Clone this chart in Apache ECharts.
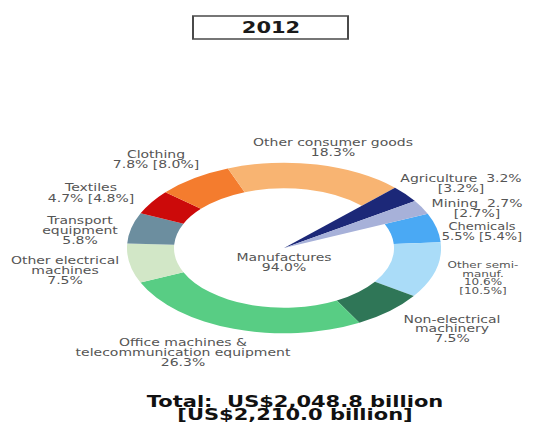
<!DOCTYPE html>
<html>
<head>
<meta charset="utf-8">
<script src="https://cdn.jsdelivr.net/npm/echarts@6/dist/echarts.min.js"></script>
<style>
  html, body { margin: 0; padding: 0; background: #fff; overflow: hidden; }
  #stage { position: relative; width: 538px; height: 422px; }
  /* the ring is drawn as a circle and flattened into an ellipse */
  #ring { position: absolute; left: 0; top: 0; width: 538px; height: 422px;
          transform: scaleY(0.543); transform-origin: 284px 248px; }
  /* text layer, slightly flattened for the wide lettering */
  #text { position: absolute; left: 0; top: 0; width: 538px; height: 563px;
          transform: scaleY(0.75); transform-origin: 0 0; }
</style>
</head>
<body>
<div id="stage">
  <div id="ring"></div>
  <div id="text"></div>
</div>
<script>
// ---- data: share of exports by product, 2012 [previous year in brackets] ----
const yearLabel = '2012';

const primaryNames  = ['Agriculture', 'Mining'];
const primaryShares = [3.2, 2.7];
const primaryPrev   = [3.2, 2.7];

const manufNames  = ['Chemicals', 'Other semi-\nmanuf.', 'Non-electrical\nmachinery',
                     'Office machines &\ntelecommunication equipment', 'Other electrical\nmachines',
                     'Transport\nequipment', 'Textiles', 'Clothing', 'Other consumer goods'];
const manufShares = [5.5, 10.6, 7.5, 26.3, 7.5, 5.8, 4.7, 7.8, 18.3];
const manufPrev   = [5.4, 10.5, null, null, null, null, 4.8, 8.0, null];

const manufLabel = 'Manufactures';
const manufTotal = 94.0;

const totalValue = '2,048.8';
const totalPrev  = '2,210.0';

// ---- colours ----
const primaryColors = ['#1c2878', '#a7b1d9'];
const manufColors   = ['#4aa9f4', '#aadcf8', '#2f7657', '#58cd84', '#d2e7c7',
                       '#6c8e9f', '#cc0a0a', '#f47c2e', '#f8b472'];

const pct = v => v.toFixed(1) + '%';
const bracket = v => '[' + v.toFixed(1) + '%]';

// ---- ring ----
const ring = echarts.init(document.getElementById('ring'), null, { renderer: 'svg' });
const primarySum = primaryShares.reduce((a, b) => a + b, 0);
const common = {
  type: 'pie', center: [284, 248], startAngle: 45, clockwise: true,
  silent: true, animation: false, label: { show: false }, labelLine: { show: false },
  emphasis: { disabled: true }, itemStyle: { borderWidth: 0 }
};
ring.setOption({
  animation: false,
  series: [
    Object.assign({}, common, {
      radius: [110, 157],
      data: [{ value: primarySum, itemStyle: { color: 'transparent' } }].concat(
        manufShares.map((v, i) => ({ name: manufNames[i], value: v, itemStyle: { color: manufColors[i] } })))
    }),
    Object.assign({}, common, {
      radius: [0, 157],
      data: primaryShares.map((v, i) => ({ name: primaryNames[i], value: v, itemStyle: { color: primaryColors[i] } }))
        .concat([{ value: manufTotal, itemStyle: { color: 'transparent' } }])
    })
  ]
});

// ---- text ----
const sy = v => v / 0.75;          // page y -> text layer y
const grey = '#555';
const font = size => size + 'px "DejaVu Sans"';
const boldFont = 'bold 21px "DejaVu Sans"';

// placement of each slice label: centre x, centre y, line step, font size, separators
const primaryPlace = [
  { x: 461, y: 184, step: 10, size: 14, sep: ['  ', '\n'] },
  { x: 477, y: 209, step: 10, size: 14, sep: ['  ', '\n'] }
];
const manufPlace = [
  { x: 482, y: 232, step: 10, size: 13, sep: ['\n', ' '] },
  { x: 483, y: 277.5, step: 8.5, size: 12, sep: ['\n', '\n'] },
  { x: 452, y: 329, step: 9.5, size: 14, sep: ['\n', ' '] },
  { x: 183, y: 352.5, step: 9.7, size: 14, sep: ['\n', ' '] },
  { x: 65, y: 271, step: 10, size: 14, sep: ['\n', ' '] },
  { x: 80, y: 230.5, step: 9.7, size: 14, sep: ['\n', ' '] },
  { x: 91, y: 193.5, step: 11, size: 14, sep: ['\n', ' '] },
  { x: 156, y: 160, step: 10, size: 14, sep: ['\n', ' '] },
  { x: 333, y: 147.5, step: 9.5, size: 14, sep: ['\n', ' '] }
];

function sliceText(name, v, prev, sep) {
  let s = name + sep[0] + pct(v);
  if (prev != null) s += sep[1] + bracket(prev);
  return s;
}
function textEl(x, y, text, f, fill, step) {
  return {
    type: 'text', x: x, y: sy(y), silent: true,
    style: { text: text, font: f, fill: fill, align: 'center', verticalAlign: 'middle',
             lineHeight: sy(step) }
  };
}

const elements = [];
primaryNames.forEach((n, i) => {
  const p = primaryPlace[i];
  elements.push(textEl(p.x, p.y, sliceText(n, primaryShares[i], primaryPrev[i], p.sep), font(p.size), grey, p.step));
});
manufNames.forEach((n, i) => {
  const p = manufPlace[i];
  elements.push(textEl(p.x, p.y, sliceText(n, manufShares[i], manufPrev[i], p.sep), font(p.size), grey, p.step));
});
elements.push(textEl(284, 263, manufLabel + '\n' + pct(manufTotal), font(14), grey, 10));

// year box
elements.push({
  type: 'rect', silent: true,
  shape: { x: 193, y: sy(16), width: 155, height: sy(39) - sy(16) },
  style: { fill: '#fff', stroke: '#4a4a4a', lineWidth: 2 }
});
elements.push(textEl(271, 27.5, yearLabel, boldFont, '#1a1a1a', 12));

// total
elements.push(textEl(295, 407.5, 'Total:  US$' + totalValue + ' billion\n[US$' + totalPrev + ' billion]',
  boldFont, '#111', 13));

const txt = echarts.init(document.getElementById('text'), null, { renderer: 'svg' });
txt.setOption({ animation: false, graphic: { elements: elements } });
</script>
</body>
</html>
